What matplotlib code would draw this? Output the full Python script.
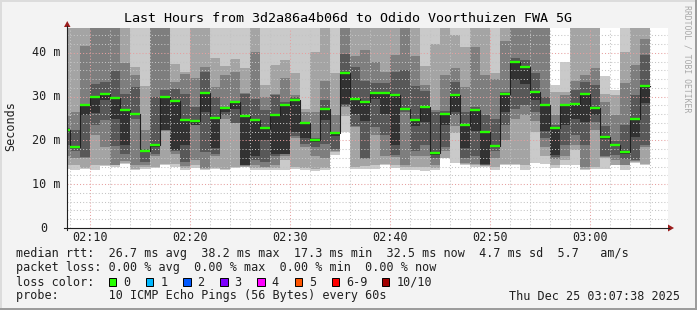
import matplotlib
matplotlib.use('Agg')
import matplotlib.pyplot as plt
from matplotlib.patches import Rectangle, Polygon
import numpy as np

# ---------------- data ----------------
# sample start minutes after 02:00 (one column per minute)
minute = list(range(7, 66))

# median rtt (ms) per minute
median = [22.5, 18.4, 28.1, 30.0, 30.7, 29.6, 27.0, 26.1, 17.6, 19.0, 30.0,
          29.0, 24.7, 24.5, 30.9, 25.2, 27.5, 28.8, 25.7, 24.7, 22.9,
          25.8, 28.1, 29.3, 24.0, 20.2, 27.2, 21.7, 35.4, 29.5, 28.9,
          30.9, 30.9, 30.4, 27.2, 24.7, 27.7, 17.1, 26.1, 30.4, 23.5,
          27.0, 21.9, 18.7, 30.6, 37.9, 36.8, 31.1, 28.1, 22.9, 28.1,
          28.3, 30.6, 27.4, 20.8, 19.0, 17.4, 24.9, 32.4]

# sorted ping rtts (ms): ping1 = fastest ... ping10 = slowest
ping1 = [13.4, 13.3, 13.4, 13.3, 14.2, 14.0, 14.6, 13.2, 13.5, 13.6, 14.5,
         14.0, 13.2, 13.8, 13.3, 13.4, 13.3, 13.8, 13.9, 13.3, 13.3,
         13.3, 13.3, 13.4, 13.3, 13.0, 13.3, 16.7, 21.9, 13.5, 13.4,
         13.5, 14.4, 13.6, 13.3, 13.3, 13.0, 13.3, 15.9, 14.8, 14.4,
         14.0, 14.0, 13.2, 14.4, 14.4, 13.3, 14.8, 14.7, 13.6, 14.4,
         14.4, 13.3, 13.5, 13.5, 14.4, 13.2, 14.8, 14.4]
ping2 = [14.4, 14.3, 13.7, 14.4, 14.4, 14.3, 14.8, 13.5, 14.0, 14.0, 14.6,
         14.7, 13.6, 14.4, 13.4, 13.7, 13.5, 14.0, 14.0, 13.6, 13.6,
         13.6, 15.5, 14.0, 13.8, 13.5, 13.6, 17.4, 25.6, 14.0, 14.2,
         14.4, 14.6, 14.4, 14.0, 14.0, 14.0, 13.6, 16.0, 21.8, 14.6,
         14.4, 14.2, 13.9, 14.7, 14.6, 14.5, 22.0, 16.5, 14.5, 15.5,
         17.9, 13.5, 14.0, 15.9, 14.5, 14.3, 15.0, 14.6]
ping3 = [16.5, 16.0, 15.9, 21.3, 18.4, 14.5, 15.2, 14.4, 14.5, 16.5, 22.1,
         17.0, 14.2, 15.6, 13.7, 16.5, 25.0, 23.9, 14.1, 14.4, 14.0,
         14.4, 16.5, 20.5, 18.5, 16.5, 16.0, 17.6, 27.7, 23.0, 15.7,
         21.3, 16.4, 16.3, 14.4, 16.5, 16.5, 14.5, 17.5, 23.3, 14.8,
         14.7, 14.4, 16.0, 20.0, 25.0, 25.8, 24.4, 18.5, 15.8, 16.5,
         19.0, 14.0, 22.4, 16.3, 15.5, 14.5, 15.2, 18.4]
ping4 = [19.0, 17.5, 16.3, 23.5, 24.6, 18.7, 17.0, 25.0, 15.0, 16.8, 22.4,
         17.5, 15.0, 23.6, 17.3, 17.0, 25.8, 24.0, 14.3, 15.5, 15.0,
         16.4, 16.8, 21.0, 19.3, 18.5, 19.3, 18.0, 27.8, 23.4, 16.0,
         23.1, 21.3, 16.7, 26.6, 17.6, 19.0, 16.0, 18.5, 25.8, 16.0,
         16.5, 14.5, 17.7, 23.5, 27.3, 28.0, 26.4, 20.5, 16.3, 19.0,
         21.2, 19.0, 24.3, 16.5, 16.6, 15.8, 15.5, 19.0]
ping5 = [22.3, 18.2, 25.8, 26.2, 29.3, 25.0, 19.0, 25.8, 17.3, 18.5, 22.5,
         17.8, 19.0, 23.6, 26.4, 18.2, 26.5, 27.3, 14.5, 16.5, 20.0,
         16.8, 17.0, 22.0, 20.5, 19.6, 24.7, 21.0, 28.4, 26.0, 24.4,
         29.5, 26.0, 19.0, 27.0, 23.3, 24.3, 16.6, 23.5, 26.6, 18.2,
         22.2, 14.7, 18.4, 26.5, 33.8, 33.0, 29.3, 22.2, 16.7, 23.5,
         25.0, 24.3, 25.9, 20.4, 18.7, 16.8, 20.9, 28.5]
ping6 = [22.7, 18.6, 28.2, 30.1, 30.8, 29.7, 27.1, 26.3, 17.8, 19.2, 30.1,
         29.0, 24.7, 24.6, 31.0, 25.2, 27.5, 28.9, 25.7, 24.8, 23.0,
         25.8, 28.1, 29.3, 23.9, 20.3, 27.3, 21.8, 35.4, 29.5, 28.9,
         30.9, 30.9, 30.4, 27.3, 24.8, 27.7, 17.3, 26.1, 30.4, 23.5,
         27.0, 21.9, 18.8, 30.6, 37.9, 36.8, 31.1, 28.1, 22.9, 28.1,
         28.3, 30.6, 27.4, 21.0, 19.3, 17.6, 24.9, 32.5]
ping7 = [22.9, 22.4, 28.3, 33.0, 33.4, 35.9, 30.6, 32.3, 18.0, 30.0, 31.6,
         31.8, 30.7, 27.7, 35.7, 30.0, 27.6, 29.0, 30.6, 29.5, 27.0,
         30.4, 28.8, 30.0, 24.2, 20.6, 29.3, 22.0, 39.8, 36.8, 33.5,
         33.2, 33.2, 35.7, 36.0, 32.4, 31.3, 26.5, 26.8, 33.3, 26.6,
         27.6, 25.8, 24.9, 31.0, 38.9, 38.4, 35.4, 30.0, 23.6, 28.4,
         31.5, 33.4, 32.7, 23.4, 19.9, 23.5, 30.4, 39.5]
ping8 = [25.5, 26.4, 41.7, 47.0, 47.0, 47.0, 37.6, 35.0, 22.3, 47.0, 47.0,
         33.4, 35.1, 34.3, 36.8, 32.3, 35.0, 35.7, 30.8, 40.2, 30.0,
         30.6, 34.2, 30.4, 26.4, 26.4, 33.6, 25.8, 47.0, 39.2, 40.7,
         38.0, 35.7, 39.6, 47.0, 39.3, 32.7, 27.0, 35.0, 36.6, 32.3,
         41.4, 35.0, 34.0, 42.7, 47.0, 47.0, 47.0, 47.0, 25.8, 30.4,
         33.6, 35.0, 36.5, 28.9, 25.8, 33.1, 37.3, 43.2]
ping9 = [47.0, 47.0, 47.0, 48.0, 48.0, 48.0, 47.0, 36.9, 32.5, 48.0, 48.0,
         37.4, 35.7, 47.0, 47.0, 38.9, 37.0, 38.6, 36.5, 47.0, 32.7,
         37.3, 38.5, 35.4, 27.2, 40.3, 47.0, 35.4, 48.0, 47.0, 47.0,
         47.0, 47.0, 47.0, 48.0, 47.0, 37.0, 42.1, 47.0, 44.1, 41.4,
         47.0, 47.0, 35.5, 47.0, 48.0, 48.0, 48.0, 48.0, 31.0, 31.0,
         47.0, 47.0, 47.0, 30.6, 30.3, 40.3, 47.0, 47.0]
ping10 = [50.0, 50.0, 50.0, 50.0, 50.0, 50.0, 50.0, 47.0, 47.0, 50.0, 50.0,
          47.0, 47.0, 50.0, 50.0, 47.0, 47.0, 47.0, 47.0, 50.0, 47.0,
          47.0, 47.0, 47.0, 47.0, 47.0, 50.0, 47.0, 50.0, 50.0, 50.0,
          50.0, 50.0, 50.0, 50.0, 50.0, 47.0, 47.0, 50.0, 47.0, 47.0,
          50.0, 50.0, 47.0, 50.0, 50.0, 50.0, 50.0, 50.0, 32.7, 38.0,
          50.0, 50.0, 50.0, 34.8, 31.5, 47.0, 50.0, 50.0]

tick_minutes = [10, 20, 30, 40, 50, 60]
tick_labels = ['02:10', '02:20', '02:30', '02:40', '02:50', '03:00']
y_ticks = [0, 10, 20, 30, 40]
y_labels = ['0', '10 m', '20 m', '30 m', '40 m']

loss_labels = ['0', '1', '2', '3', '4', '5', '6-9', '10/10']
loss_colors = ['#26ff00', '#00b8ff', '#0059ff', '#7e00ff', '#ff00ff',
               '#ff5500', '#ff0000', '#a10000']

stats_line = 'median rtt:  26.7 ms avg  38.2 ms max  17.3 ms min  32.5 ms now  4.7 ms sd  5.7   am/s'
loss_line = 'packet loss: 0.00 % avg  0.00 % max  0.00 % min  0.00 % now'
probe_line = 'probe:       10 ICMP Echo Pings (56 Bytes) every 60s'
date_text = 'Thu Dec 25 03:07:38 2025'
title = 'Last Hours from 3d2a86a4b06d to Odido Voorthuizen FWA 5G'

# ---------------- figure ----------------
W, H = 697, 310
MONO = 'DejaVu Sans Mono'
fig = plt.figure(figsize=(W / 100, H / 100), dpi=100)
fig.patch.set_facecolor('#f3f3f3')

L, R, T, B = 67, 668, 28, 228
ax = fig.add_axes([L / W, 1 - B / H, (R - L) / W, (B - T) / H])
ax.set_facecolor('white')
ymax = 45.714
ax.set_xlim(7.7, 67.8)
ax.set_ylim(0, ymax)
for s in ax.spines.values():
    s.set_visible(False)
ax.set_xticks([])
ax.set_yticks([])

edges = np.array(minute + [minute[-1] + 1], dtype=float)
def ext(a):
    a = list(a)
    return np.array(a + [a[-1]], dtype=float)

pings = [ping1, ping2, ping3, ping4, ping5, ping6, ping7, ping8, ping9, ping10]
shades = ['#cacaca', '#a4a4a4', '#7e7e7e', '#585858', '#323232']
for i in range(5):
    ax.fill_between(edges, ext(pings[i]), ext(pings[9 - i]), step='post',
                    color=shades[i], linewidth=0, zorder=1 + i * 0.01)

# grid (drawn over the smoke, like rrdtool)
for m in range(8, 68, 2):
    major = m % 10 == 0
    ax.axvline(m, color='#e6a0a0' if major else '#c4c4c4', lw=0.75,
               ls=(0, (1, 2)), zorder=2)
for v in range(2, 46, 2):
    major = v % 10 == 0
    ax.axhline(v, color='#e6a0a0' if major else '#c4c4c4', lw=0.75,
               ls=(0, (1, 2)), zorder=2)

# median line + loss-coloured marker
ax.step(edges, ext(median), where='post', color='#202020', lw=0.8, zorder=3)
ax.hlines(median, edges[:-1], edges[1:], color=loss_colors[0], lw=1.7, zorder=4)

# ---------------- overlay in pixel coordinates ----------------
ov = fig.add_axes([0, 0, 1, 1])
ov.set_xlim(0, W)
ov.set_ylim(H, 0)
ov.axis('off')
ov.patch.set_alpha(0)

# frame
ov.add_patch(Rectangle((0, 0), W, 1.5, color='#dcdcdc', lw=0))
ov.add_patch(Rectangle((0, 0), 1.5, H, color='#dcdcdc', lw=0))
ov.add_patch(Rectangle((0, H - 2.5), W, 2.5, color='#9c9c9c', lw=0))
ov.add_patch(Rectangle((W - 2.5, 0), 2.5, H, color='#9c9c9c', lw=0))

# axes lines + arrows
ov.plot([L, L], [B + 2, T - 2], color='#202020', lw=0.8)
ov.plot([L - 3, R + 1], [B, B], color='#202020', lw=0.8)
ov.add_patch(Polygon([[L - 3, T - 1], [L + 3.5, T - 1], [L + 0.25, T - 7]],
                     closed=True, color='#9b1c1c', lw=0))
ov.add_patch(Polygon([[R, B - 3.5], [R, B + 3.5], [R + 6, B]],
                     closed=True, color='#9b1c1c', lw=0))

def tx(m):
    return L + (m - 7.7) * 10

for m, lab in zip(tick_minutes, tick_labels):
    ov.text(tx(m), 237.5, lab, ha='center', va='center', family=MONO,
            fontsize=8.5, color='#202020')
for v, lab in zip(y_ticks, y_labels):
    yy = B - v * (B - T) / ymax
    xr = 47.5 if lab == '0' else 60
    ov.text(xr, yy, lab, ha='right', va='center', family=MONO,
            fontsize=8.5, color='#202020')

ov.text(348.5, 18, title, ha='center', va='center', family=MONO,
        fontsize=9.6, color='#000000')
ov.text(11, 126, 'Seconds', ha='center', va='center', rotation=90,
        family=MONO, fontsize=8.5, color='#202020')
ov.text(687, 5, 'RRDTOOL / TOBI OETIKER', ha='center', va='top',
        rotation=270, family=MONO, fontsize=5.9, color='#a8a8a8')

ov.text(16, 254, stats_line, ha='left', va='center', family=MONO,
        fontsize=8.5, color='#202020')
ov.text(16, 268, loss_line, ha='left', va='center', family=MONO,
        fontsize=8.5, color='#202020')
ov.text(16, 282, 'loss color:', ha='left', va='center', family=MONO,
        fontsize=8.5, color='#202020')
sq_x = [108.5, 145.7, 182.9, 220.1, 257.3, 294.5, 331.7, 381.8]
for x0, lab, col in zip(sq_x, loss_labels, loss_colors):
    ov.add_patch(Rectangle((x0, 278.3), 7.6, 7.6, facecolor=col,
                           edgecolor='#000000', lw=0.7))
    ov.text(x0 + 14.5, 282, lab, ha='left', va='center', family=MONO,
            fontsize=8.5, color='#202020')
ov.text(16, 296, probe_line, ha='left', va='center', family=MONO,
        fontsize=8.5, color='#202020')
ov.text(680, 296, date_text, ha='right', va='center', family=MONO,
        fontsize=8.5, color='#202020')

fig.savefig('out.png', dpi=100, facecolor=fig.get_facecolor())
